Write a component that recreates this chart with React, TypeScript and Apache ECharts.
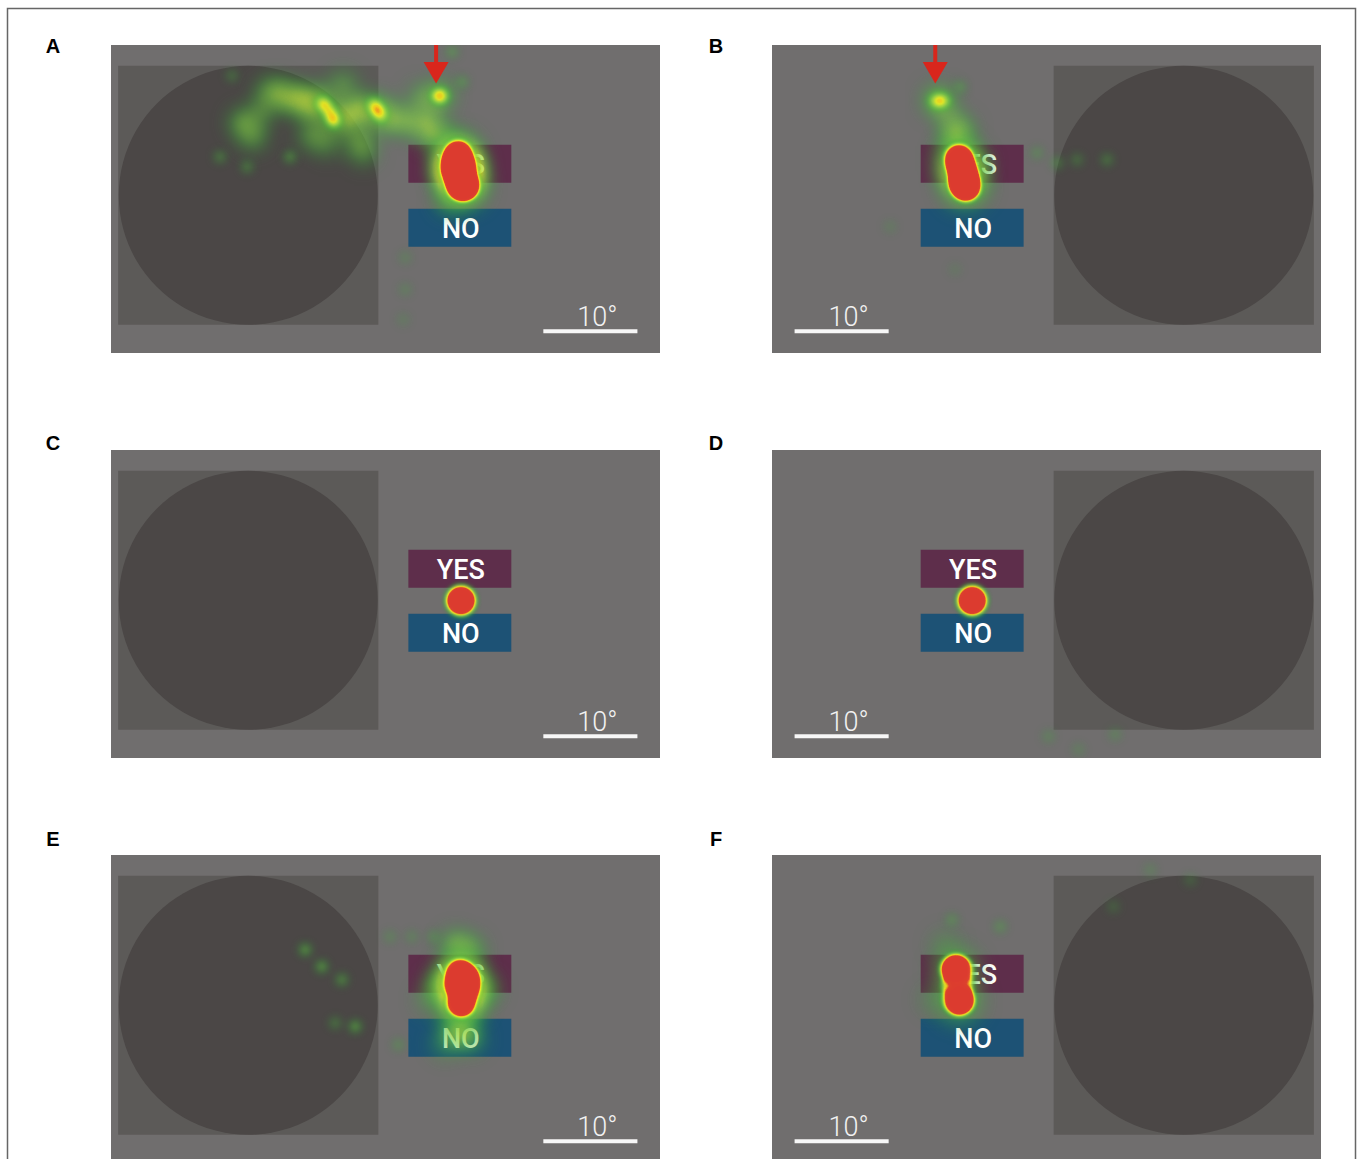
import React, { useEffect, useRef } from "react";
import * as echarts from "echarts";

// Stimulus screen coordinates (1920 x 1080 px). 10 deg of visual angle = 329 px.
const SCREEN_W = 1920;
const SCREEN_H = 1080;

const PANEL_LABELS = ["A", "B", "C", "D", "E", "F"];
const CIRCLE_SIDE = ["left", "right", "left", "right", "left", "right"];
const ARROW_X: (number | null)[] = [1137, 571, null, null, null, null];
const ARROW_TIP_Y = 135;

// stimulus layout for a circle-left screen (mirrored for circle-right screens)
const SQUARE = [25, 73, 935, 981];
const YES_BOX = [1040, 350, 1400, 483];
const NO_BOX = [1040, 574, 1400, 707];
const SCALE_BAR = [1512, 1841, 1004];
const SCALE_TEXT = "10°";
const YES_TEXT = "YES";
const NO_TEXT = "NO";

// fixation density points [x, y, weight]
const coreA = [[1214, 385, 1], [1208, 410, 1], [1204, 430, 1], [1228, 427, 1], [1211, 455, 1], [1228, 466, 1], [1239, 494, 1], [1222, 494, 1]];
const glowA = [[1214, 385, 0.7], [1206, 420, 0.7], [1228, 440, 0.7], [1212, 460, 0.7], [1235, 494, 0.7]];
const spotA = [
  [1143, 178, 0.72], [1155, 179, 0.72], [738, 203, 0.75], [756, 220, 0.66], [770, 245, 0.7], [780, 266, 0.8],
  [918, 210, 0.72], [932, 228, 0.76], [945, 247, 0.72],
];
const hazeA = [
  [462, 273, 0.7], [497, 322, 0.6], [528, 234, 0.5], [581, 164, 0.65], [626, 192, 0.6], [661, 182, 0.7], [696, 220, 0.7],
  [703, 315, 0.6], [756, 343, 0.5], [731, 192, 0.75], [784, 255, 0.8], [812, 140, 0.6], [836, 252, 0.75],
  [871, 220, 0.75], [934, 227, 0.9], [871, 332, 0.6], [882, 374, 0.5], [976, 262, 0.7], [1036, 269, 0.7], [1081, 185, 0.5],
  [1106, 269, 0.7], [1123, 315, 0.7], [1148, 178, 0.9], [1179, 332, 0.6], [1186, 542, 0.6], [549, 164, 0.4],
];
const dotsA = [
  [626, 392, 0.6], [381, 392, 0.5], [476, 427, 0.5], [423, 108, 0.4], [1193, 24, 0.5], [1228, 129, 0.5],
  [1029, 745, 0.3], [1029, 857, 0.3], [1022, 962, 0.25],
];

const coreB = [[654, 399, 1], [661, 430, 1], [672, 458, 1], [679, 497, 1], [668, 483, 1]];
const glowB = [[654, 399, 0.65], [664, 445, 0.65], [676, 492, 0.65]];
const spotB = [[574, 196, 0.75], [598, 196, 0.75]];
const hazeB = [[640, 332, 0.8], [658, 297, 0.6], [710, 420, 0.5], [584, 196, 1], [623, 262, 0.4]];
const dotsB = [[658, 147, 0.5], [927, 378, 0.4], [997, 413, 0.45], [1067, 402, 0.4], [1172, 402, 0.45], [413, 637, 0.25], [640, 787, 0.2]];

const coreC = [[1224, 528, 1]];
const coreD = [[700, 528, 1]];
const dotsD = [[967, 1004, 0.35], [1072, 1050, 0.3], [1200, 997, 0.35]];

const coreE = [[1221, 416, 1], [1214, 455, 1], [1239, 472, 1], [1225, 518, 1], [1242, 437, 1]];
const glowE = [[1221, 416, 0.75], [1214, 455, 0.75], [1239, 472, 0.75], [1225, 518, 0.75]];
const hazeE = [
  [1204, 315, 0.75], [1256, 332, 0.65], [1151, 455, 0.75], [1309, 472, 0.6], [1204, 612, 0.7], [1256, 647, 0.6],
  [1169, 665, 0.45], [1116, 507, 0.4], [1230, 600, 0.7],
];
const dotsE = [
  [679, 332, 0.7], [737, 391, 0.7], [807, 437, 0.6], [854, 601, 0.7], [784, 589, 0.45], [1005, 665, 0.4],
  [976, 286, 0.35], [1052, 286, 0.35], [1127, 286, 0.4],
];

const coreF = [[642, 400, 1], [648, 457, 0.82], [656, 510, 1], [652, 410, 0.6], [650, 505, 0.6]];
const glowF = [[644, 402, 0.55], [654, 511, 0.55]];
const hazeF = [[563, 507, 0.3], [605, 315, 0.35]];
const dotsF = [[629, 227, 0.45], [798, 251, 0.45], [1194, 181, 0.3], [1323, 52, 0.3], [1463, 87, 0.3]];

const CORE = [coreA, coreB, coreC, coreD, coreE, coreF];
const GLOW = [glowA, glowB, [], [], glowE, glowF];
const SPOT = [spotA, spotB, [], [], [], []];
const HAZE = [hazeA, hazeB, [], [], hazeE, hazeF];
const DOTS = [dotsA, dotsB, [], dotsD, dotsE, dotsF];

// page layout
const PANEL_LEFT = [111, 772, 111, 772, 111, 772];
const PANEL_TOP = [45, 45, 450, 450, 855, 855];
const PANEL_W = 549;
const PANEL_H = 308;
const LABEL_POS = [[53, 46], [716, 46], [53, 443], [716, 443], [53, 839], [716, 839]];

const HEAT_STOPS: [number, string][] = [
  [0.0, "#2a9a30"],
  [0.35, "#4cbc3a"],
  [0.6, "#7ad040"],
  [0.76, "#b2e03c"],
  [0.85, "#eeec22"],
  [0.9, "#f9cc1a"],
  [0.935, "#ef7f22"],
  [0.96, "#e0402c"],
  [1.0, "#dc3a2f"],
];

function hexToRgb(h: string) {
  return [parseInt(h.slice(1, 3), 16), parseInt(h.slice(3, 5), 16), parseInt(h.slice(5, 7), 16)];
}
function buildRamp(n: number) {
  const out: string[] = [];
  for (let i = 0; i < n; i++) {
    const t = i / (n - 1);
    let k = 0;
    while (k < HEAT_STOPS.length - 2 && t > HEAT_STOPS[k + 1][0]) k++;
    const [t0, c0] = HEAT_STOPS[k];
    const [t1, c1] = HEAT_STOPS[k + 1];
    const f = Math.min(1, Math.max(0, (t - t0) / (t1 - t0)));
    const a = hexToRgb(c0);
    const b = hexToRgb(c1);
    const c = a.map((v, j) => Math.round(v + (b[j] - v) * f));
    out.push(`rgb(${c[0]},${c[1]},${c[2]})`);
  }
  return out;
}

function stimulusRenderer(i: number) {
  return (_params: any, api: any) => {
    const left = CIRCLE_SIDE[i] === "left";
    const mx = (x: number) => (left ? x : SCREEN_W - x);
    const box = (b: number[]) => {
      const p0 = api.coord([mx(b[0]), b[1]]);
      const p1 = api.coord([mx(b[2]), b[3]]);
      return {
        x: Math.min(p0[0], p1[0]),
        y: Math.min(p0[1], p1[1]),
        width: Math.abs(p1[0] - p0[0]),
        height: Math.abs(p1[1] - p0[1]),
      };
    };
    const sq = box(SQUARE);
    const yes = box(YES_BOX);
    const no = box(NO_BOX);
    const txt = (r: any, s: string) => ({
      type: "text",
      x: r.x + r.width / 2 + 1,
      y: r.y + r.height / 2 + 1,
      style: {
        text: s,
        fill: "#ffffff",
        fontFamily: "Roboto",
        fontWeight: 500,
        fontSize: 27,
        align: "center",
        verticalAlign: "middle",
      },
    });
    return {
      type: "group",
      children: [
        { type: "rect", shape: sq, style: { fill: "#5c5a58" } },
        {
          type: "circle",
          shape: { cx: sq.x + sq.width / 2, cy: sq.y + sq.height / 2, r: Math.min(sq.width, sq.height) / 2 },
          style: { fill: "#4b4746" },
        },
        { type: "rect", shape: yes, style: { fill: "#5e2e4b" } },
        txt(yes, YES_TEXT),
        { type: "rect", shape: no, style: { fill: "#1d5275" } },
        txt(no, NO_TEXT),
      ],
    };
  };
}

function annotationRenderer(i: number) {
  return (_params: any, api: any) => {
    const left = CIRCLE_SIDE[i] === "left";
    const mx = (x: number) => (left ? x : SCREEN_W - x);
    const a = api.coord([mx(SCALE_BAR[0]), SCALE_BAR[2]]);
    const b = api.coord([mx(SCALE_BAR[1]), SCALE_BAR[2]]);
    const x0 = Math.min(a[0], b[0]);
    const x1 = Math.max(a[0], b[0]);
    const children: any[] = [
      { type: "rect", shape: { x: x0, y: a[1] - 2, width: x1 - x0, height: 4 }, style: { fill: "#f7f7f7" } },
      {
        type: "text",
        x: (x0 + x1) / 2 + 7,
        y: a[1] - 14,
        style: {
          text: SCALE_TEXT,
          fill: "#f2f2f2",
          fontFamily: "Roboto",
          fontWeight: 300,
          fontSize: 27,
          align: "center",
          verticalAlign: "middle",
        },
      },
    ];
    const ax = ARROW_X[i];
    if (ax != null) {
      const top = api.coord([ax, 0]);
      const tip = api.coord([ax, ARROW_TIP_Y]);
      const headH = 21.5;
      const headW = 12.5;
      children.push({
        type: "rect",
        shape: { x: top[0] - 2, y: top[1], width: 4, height: tip[1] - headH - top[1] + 1 },
        style: { fill: "#d9261c" },
      });
      children.push({
        type: "polygon",
        shape: { points: [[tip[0] - headW, tip[1] - headH], [tip[0] + headW, tip[1] - headH], [tip[0], tip[1]]] },
        style: { fill: "#d9261c" },
      });
    }
    return { type: "group", children };
  };
}

export default function App() {
  const ref = useRef<HTMLDivElement>(null);
  useEffect(() => {
    if (!ref.current) return;
    echarts.registerMap("screen", {
      type: "FeatureCollection",
      features: [
        {
          type: "Feature",
          properties: { name: "screen" },
          geometry: {
            type: "Polygon",
            coordinates: [[[0, 0], [SCREEN_W, 0], [SCREEN_W, SCREEN_H], [0, SCREEN_H], [0, 0]]],
          },
        },
      ],
    } as any);
    const chart = echarts.init(ref.current, undefined, { renderer: "svg" });

    const geo = PANEL_LEFT.map((l, i) => ({
      map: "screen",
      roam: false,
      silent: true,
      projection: {
        project: (p: number[]) => [p[0], p[1]],
        unproject: (p: number[]) => [p[0], p[1]],
      },
      left: l,
      top: PANEL_TOP[i],
      width: PANEL_W,
      height: PANEL_H,
      itemStyle: { areaColor: "#706e6e", borderWidth: 0, borderColor: "rgba(0,0,0,0)" },
      emphasis: { disabled: true },
      select: { disabled: true },
      label: { show: false },
      z: 0,
    }));

    const series: any[] = [];
    const heatIdx: number[] = [];
    const addHeat = (i: number, data: number[][], pointSize: number, blurSize: number, z: number) => {
      if (!data.length) return;
      heatIdx.push(series.length);
      series.push({
        type: "heatmap",
        coordinateSystem: "geo",
        geoIndex: i,
        pointSize,
        blurSize,
        data,
        z,
        silent: true,
      });
    };
    for (let i = 0; i < 6; i++) {
      series.push({
        type: "custom",
        coordinateSystem: "geo",
        geoIndex: i,
        z: 1,
        silent: true,
        data: [[0, 0]],
        renderItem: stimulusRenderer(i),
      });
      addHeat(i, DOTS[i], 6, 10, 2);
      addHeat(i, HAZE[i], 14, 20, 2);
      addHeat(i, GLOW[i], 24, 20, 2);
      addHeat(i, SPOT[i], 9, 7, 3);
      addHeat(i, CORE[i], 17, 4, 4);
      series.push({
        type: "custom",
        coordinateSystem: "geo",
        geoIndex: i,
        z: 5,
        silent: true,
        data: [[0, 0]],
        renderItem: annotationRenderer(i),
      });
    }

    const graphic: any[] = [
      {
        type: "rect",
        shape: { x: 7.5, y: 8.5, width: 1348, height: 1300 },
        style: { fill: "none", stroke: "#666666", lineWidth: 1.5 },
        silent: true,
      },
      ...PANEL_LABELS.map((t, i) => ({
        type: "text",
        x: LABEL_POS[i][0],
        y: LABEL_POS[i][1],
        silent: true,
        style: {
          text: t,
          fill: "#000000",
          fontFamily: "Liberation Sans",
          fontWeight: "bold",
          fontSize: 20,
          align: "center",
          verticalAlign: "middle",
        },
      })),
    ];

    chart.setOption({
      animation: false,
      backgroundColor: "#ffffff",
      geo,
      visualMap: [
        {
          type: "continuous",
          show: false,
          min: 0,
          max: 1,
          seriesIndex: heatIdx,
          inRange: { color: buildRamp(101) },
        },
      ],
      series,
      graphic,
    });
    return () => chart.dispose();
  }, []);
  return (
    <div
      ref={ref}
      style={{ position: "absolute", left: 0, top: 0, width: 1358, height: 1159 }}
    />
  );
}
